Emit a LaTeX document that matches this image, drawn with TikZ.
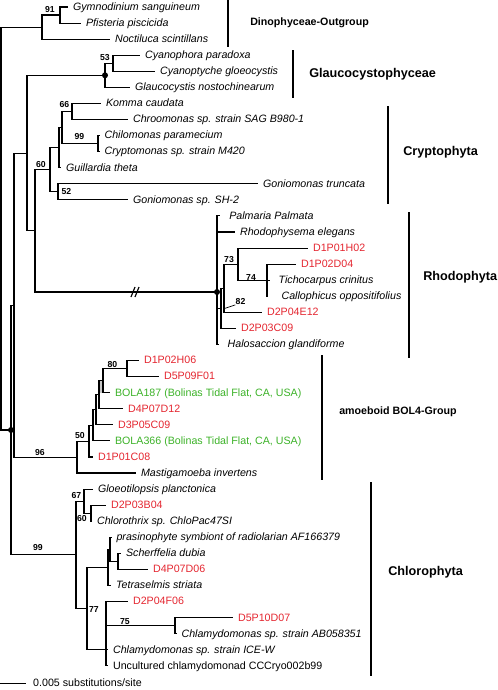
\documentclass[tikz,border=0pt]{standalone}
\usepackage{fontspec}
\setmainfont{Liberation Sans}
\usetikzlibrary{calc}
\definecolor{EnvRed}{RGB}{228,38,48}
\definecolor{EnvGreen}{RGB}{60,178,40}

\begin{document}
\begin{tikzpicture}[x=0.75pt, y=-0.75pt,
          br/.style={line width=0.85pt},
          taxon/.style={anchor=west, inner xsep=3.6pt, inner ysep=0pt,
                        text height=5.8pt, text depth=0.8pt,
                        font=\fontsize{8}{9}\selectfont\itshape},
          env/.style={taxon, font=\fontsize{8}{9}\selectfont, text=EnvRed},
          bola/.style={taxon, font=\fontsize{8}{9}\selectfont, text=EnvGreen},
          plain/.style={taxon, font=\fontsize{8}{9}\selectfont},
          lgap/.style={inner xsep=#1},
          boot/.style={inner sep=0pt, font=\fontsize{6.5}{7}\selectfont\bfseries},
          clade/.style={line width=1.6pt},
          grp/.style={anchor=west, inner sep=0pt,
                      font=\fontsize{9.5}{11}\selectfont\bfseries},
          grpsm/.style={grp, font=\fontsize{8}{10}\selectfont\bfseries},
          hub/.style={circle, fill=black, inner sep=0pt, minimum size=4.5pt}
        ]
        \useasboundingbox (0,0) rectangle (497,690);

        % Internal nodes
        \coordinate (root) at (1,228.5);
        \coordinate (nDino) at (42,27.1);
        \coordinate (n91) at (60,15.0);
        \coordinate (nDot) at (11,430);
        \coordinate (nU) at (14,305.1);
        \coordinate (nG) at (27,153.1);
        \coordinate (nGlau) at (105,75.3);
        \coordinate (n53) at (113,63.2);
        \coordinate (nCR) at (35,230.9);
        \coordinate (n60) at (50,169.7);
        \coordinate (nC2) at (59,147.6);
        \coordinate (nC1) at (62,127.5);
        \coordinate (n66) at (72,111.5);
        \coordinate (n99) at (98,143.6);
        \coordinate (n52) at (58,191.8);
        \coordinate (nR0) at (217,292);
        \coordinate (nR1) at (221,308.3);
        \coordinate (nR2) at (224,288.2);
        \coordinate (n73) at (238,264.1);
        \coordinate (n74) at (267,280.2);
        \coordinate (nB6) at (77,457.1);
        \coordinate (n50) at (89,441.1);
        \coordinate (nB4) at (93,425.3);
        \coordinate (nB3) at (96,409.7);
        \coordinate (nB2) at (99,394.7);
        \coordinate (nB1) at (103,380.6);
        \coordinate (n80) at (127,368.6);
        \coordinate (nCh) at (76,554.9);
        \coordinate (n67) at (84,501.2);
        \coordinate (n60b) at (91,513.2);
        \coordinate (n77) at (87,608.6);
        \coordinate (nP) at (108,567.4);
        \coordinate (nP1) at (110,549.3);
        \coordinate (nSch) at (118,561.4);
        \coordinate (nL) at (106,649.8);
        \coordinate (n75) at (175,625.7);

        % Leaves
        \node[taxon] (gsan) at (68,7.0) {Gymnodinium sanguineum};
        \node[taxon] (pfis) at (81,23.1) {Pfisteria piscicida};
        \node[taxon] (noct) at (110,39.1) {Noctiluca scintillans};
        \node[taxon] (cyan) at (140,55.2) {Cyanophora paradoxa};
        \node[taxon] (cygl) at (155,71.3) {Cyanoptyche gloeocystis};
        \node[taxon] (glau) at (130,87.4) {Glaucocystis nostochinearum};
        \node[taxon] (komm) at (101,103.4) {Komma caudata};
        \node[taxon] (chro) at (128,119.5) {Chroomonas sp. strain SAG B980-1};
        \node[taxon] (chil) at (99.5,135.6) {Chilomonas paramecium};
        \node[taxon] (cryp) at (99.5,151.6) {Cryptomonas sp. strain M420};
        \node[taxon] (guil) at (61,167.7) {Guillardia theta};
        \node[taxon] (gotr) at (258,183.8) {Goniomonas truncata};
        \node[taxon] (gosh) at (128,199.8) {Goniomonas sp. SH-2};
        \node[taxon, lgap=6.8pt] (palm) at (220,215.9) {Palmaria Palmata};
        \node[taxon] (rhod) at (235,232.0) {Rhodophysema elegans};
        \node[env] (d1p01h) at (308,248.1) {D1P01H02};
        \node[env] (d1p02d) at (296,264.1) {D1P02D04};
        \node[taxon, lgap=6.3pt] (tich) at (270,280.2) {Tichocarpus crinitus};
        \node[taxon, lgap=10pt] (call) at (268,296.3) {Callophicus oppositifolius};
        \node[env] (d2p04e) at (262,312.3) {D2P04E12};
        \node[env] (d2p03c) at (236,328.4) {D2P03C09};
        \node[taxon, lgap=6.3pt] (halo) at (219,344.5) {Halosaccion glandiforme};
        \node[env] (d1p02h) at (139,360.5) {D1P02H06};
        \node[env] (d5p09) at (159,376.6) {D5P09F01};
        \node[bola] (bola187) at (110,392.7) {BOLA187 (Bolinas Tidal Flat, CA, USA)};
        \node[env] (d4p07d12) at (123,408.8) {D4P07D12};
        \node[env] (d3p05) at (113,424.8) {D3P05C09};
        \node[bola] (bola366) at (110,440.9) {BOLA366 (Bolinas Tidal Flat, CA, USA)};
        \node[env] (d1p01c) at (93,457.0) {D1P01C08};
        \node[taxon] (mast) at (136,473.0) {Mastigamoeba invertens};
        \node[taxon] (gloe) at (93,489.1) {Gloeotilopsis planctonica};
        \node[env] (d2p03b) at (106,505.2) {D2P03B04};
        \node[taxon] (chlo) at (92,521.2) {Chlorothrix sp. ChloPac47SI};
        \node[taxon] (pras) at (111.5,537.3) {prasinophyte symbiont of radiolarian AF166379};
        \node[taxon] (sche) at (121,553.4) {Scherffelia dubia};
        \node[env] (d4p07d06) at (148,569.5) {D4P07D06};
        \node[taxon] (tetr) at (111,585.5) {Tetraselmis striata};
        \node[env] (d2p04f) at (128,601.6) {D2P04F06};
        \node[env] (d5p10) at (233,617.7) {D5P10D07};
        \node[taxon] (ab05) at (176.5,633.7) {Chlamydomonas sp. strain AB058351};
        \node[taxon] (ice) at (108,649.8) {Chlamydomonas sp. strain ICE-W};
        \node[plain] (uncu) at (108,665.9) {Uncultured chlamydomonad CCCryo002b99};

        % Near-coincident branches
        \fill[gray!45] (99,380.6) rectangle (103,392.7);
        \fill[gray!45] (108,549.3) rectangle (110,561.4);

        % Backbone
        \draw[br] (root) |- (nDino);
        \draw[br] (root) |- (nDot);
        \draw[br] (nDot) |- (nU);
        \draw[br] (nDot) |- (nCh);
        \draw[br] (nU) |- (nG);
        \draw[br] (nU) |- (nB6);
        \draw[br] (nG) |- (nGlau);
        \draw[br] (nG) |- (nCR);
        \draw[br] (nCR) |- (n60);
        \draw[br] (nCR) |- (nR0);

        % Dinophyceae
        \draw[br] (nDino) |- (n91);
        \draw[br] (nDino) |- (noct.west);
        \draw[br] (n91) |- (gsan.west);
        \draw[br] (n91) |- (pfis.west);

        % Glaucocystophyceae
        \draw[br] (nGlau) |- (n53);
        \draw[br] (nGlau) |- (glau.west);
        \draw[br] (n53) |- (cyan.west);
        \draw[br] (n53) |- (cygl.west);

        % Cryptophyta
        \draw[br] (n60) |- (nC2);
        \draw[br] (n60) |- (n52);
        \draw[br] (nC2) |- (nC1);
        \draw[br] (nC2) |- (guil.west);
        \draw[br] (nC1) |- (n66);
        \draw[br] (nC1) |- (n99);
        \draw[br] (n66) |- (komm.west);
        \draw[br] (n66) |- (chro.west);
        \draw[br] (n99) |- (chil.west);
        \draw[br] (n99) |- (cryp.west);
        \draw[br] (n52) |- (gotr.west);
        \draw[br] (n52) |- (gosh.west);

        % Rhodophyta
        \draw[br] (nR0) |- (palm.west);
        \draw[br] (nR0) |- (rhod.west);
        \draw[br] (nR0) |- (nR1);
        \draw[br] (nR0) |- (halo.west);
        \draw[br] (nR1) |- (nR2);
        \draw[br] (nR1) |- (d2p03c.west);
        \draw[br] (nR2) |- (n73);
        \draw[br] (nR2) |- (d2p04e.west);
        \draw[br] (n73) |- (d1p01h.west);
        \draw[br] (n73) |- (n74);
        \draw[br] (n74) |- (d1p02d.west);
        \draw[br] (n74) |- (tich.west);
        \draw[br] (n74) |- (call.west);
        \draw[br] (131,297) -- (135,287);
        \draw[br] (135,297) -- (139,287);

        % BOL4 group
        \draw[br] (nB6) |- (n50);
        \draw[br] (nB6) |- (mast.west);
        \draw[br] (n50) |- (nB4);
        \draw[br] (n50) |- (d1p01c.west);
        \draw[br] (nB4) |- (nB3);
        \draw[br] (nB4) |- (bola366.west);
        \draw[br] (nB3) |- (nB2);
        \draw[br] (nB3) |- (d3p05.west);
        \draw[br] (nB2) |- (nB1);
        \draw[br] (nB2) |- (d4p07d12.west);
        \draw[br] (nB1) |- (n80);
        \draw[br] (nB1) |- (bola187.west);
        \draw[br] (n80) |- (d1p02h.west);
        \draw[br] (n80) |- (d5p09.west);

        % Chlorophyta
        \draw[br] (nCh) |- (n67);
        \draw[br] (nCh) |- (n77);
        \draw[br] (n67) |- (gloe.west);
        \draw[br] (n67) |- (n60b);
        \draw[br] (n60b) |- (d2p03b.west);
        \draw[br] (n60b) |- (chlo.west);
        \draw[br] (n77) |- (nP);
        \draw[br] (n77) |- (nL);
        \draw[br] (nP) |- (nP1);
        \draw[br] (nP) |- (tetr.west);
        \draw[br] (nP1) |- (pras.west);
        \draw[br] (nP1) |- (nSch);
        \draw[br] (nSch) |- (sche.west);
        \draw[br] (nSch) |- (d4p07d06.west);
        \draw[br] (nL) |- (d2p04f.west);
        \draw[br] (nL) |- (n75);
        \draw[br] (nL) |- (ice.west);
        \draw[br] (nL) |- (uncu.west);
        \draw[br] (n75) |- (d5p10.west);
        \draw[br] (n75) |- (ab05.west);

        % Hubs
        \node[hub] at (nGlau) {};
        \node[hub] at (nR0) {};
        \node[hub] at (nDot) {};

        % Bootstrap values
        \node[boot] (b91) at (50,10) {91};
        \node[boot] (b53) at (105,57.5) {53};
        \node[boot] (b66) at (64.5,104.5) {66};
        \node[boot] (b99c) at (79.5,136.5) {99};
        \node[boot] (b60c) at (41,164.5) {60};
        \node[boot] (b52) at (66.5,192) {52};
        \node[boot] (b73) at (229,260) {73};
        \node[boot] (b74) at (251,278) {74};
        \node[boot] (b82) at (240.5,301.5) {82};
        \draw[line width=0.5pt] (b82.south west) -- (224.5,308.5);
        \node[boot] (b80) at (112.5,364.5) {80};
        \node[boot] (b50) at (80,436) {50};
        \node[boot] (b96) at (40,452.5) {96};
        \node[boot] (b67) at (76.5,496) {67};
        \node[boot] (b60h) at (82,519) {60};
        \node[boot] (b99h) at (38,548) {99};
        \node[boot] (b77) at (94,610) {77};
        \node[boot] (b75) at (125,621.5) {75};

        % Clade bars
        \draw[clade] (228,0) -- (228,47);
        \draw[clade] (293,50) -- (293,98);
        \draw[clade] (388,106) -- (388,204);
        \draw[clade] (409,212) -- (409,358);
        \draw[clade] (322,355) -- (322,480);
        \draw[clade] (371,482) -- (371,676);
        \node[grpsm] (dinoG) at (250,23) {Dinophyceae-Outgroup};
        \node[grp] (glauG) at (309,74) {Glaucocystophyceae};
        \node[grp] (crypG) at (403,152) {Cryptophyta};
        \node[grp] (rhodG) at (423,277) {Rhodophyta};
        \node[grpsm] (bolG) at (339,412) {amoeboid BOL4-Group};
        \node[grp] (chloG) at (388,572) {Chlorophyta};

        % Scale
        \coordinate (sb0) at (0,683.5);
        \coordinate (sb1) at (26,683.5);
        \draw[br] (sb0) -- (sb1)
              node[plain, inner xsep=5pt] (scale) {0.005 substitutions/site};
      \end{tikzpicture}
\end{document}
